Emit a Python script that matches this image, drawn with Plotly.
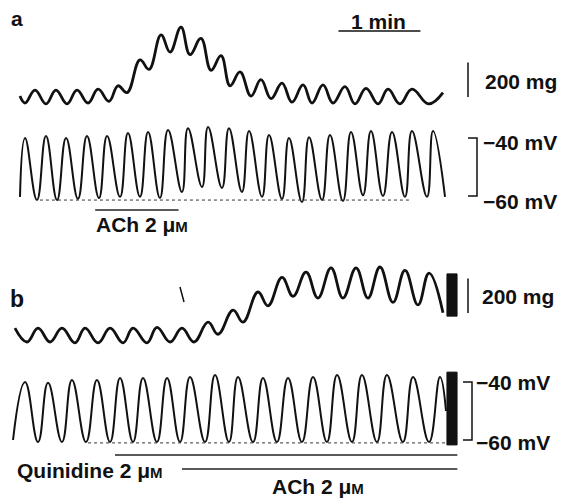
import plotly.graph_objects as go

# ---------------- data (time in s, tension in mg, potential in mV) ----------------
# Panel a: ACh alone
tens_a_t = [0, 3.7, 11.0, 19.0, 26.3, 34.4, 41.7, 49.8, 57.1, 65.1,
            71.7, 78.3, 87.8, 94.4, 103.2, 109.8, 117.8, 124.4, 132.4, 139.8,
            147.1, 153.7, 161.0, 169.0, 176.3, 183.7, 191.7, 199.0, 207.1, 213.7,
            221.7, 229.0, 237.8, 245.1, 253.2, 262.0, 269.3, 278.0, 286.8, 299.0,
            309.5]
tens_a_mg = [40, 0, 75, -5, 75, -5, 75, 0, 80, 10,
             100, 60, 250, 195, 395, 295, 440, 280, 375, 190,
             275, 100, 180, 40, 135, 25, 115, 5, 105, 0,
             105, 0, 95, -5, 85, -5, 80, -5, 80, -5,
             60]
vm_a_t = [0, 3.7, 12.4, 19.0, 27.1, 33.7, 42.4, 49.0, 57.8, 63.7,
          73.2, 79.0, 87.8, 93.7, 102.4, 108.3, 118.5, 122.9, 133.2, 137.6,
          147.8, 152.9, 162.4, 167.6, 177.1, 182.2, 191.7, 196.8, 206.3, 211.5,
          221.0, 226.8, 236.3, 242.2, 251.0, 256.8, 265.6, 272.2, 281.7, 286.8,
          297.8, 302.2, 311.0]
vm_a_mV = [-60.3, -40.0, -61.4, -39.3, -61.4, -40.0, -61.0, -39.3, -60.7, -39.3,
           -60.3, -38.3, -60.3, -37.9, -60.7, -37.2, -58.6, -36.6, -56.9, -36.2,
           -57.2, -36.6, -58.6, -37.6, -60.3, -39.0, -61.0, -40.0, -62.1, -39.7,
           -61.4, -39.0, -61.7, -37.9, -59.7, -37.6, -60.0, -37.9, -60.3, -37.6,
           -60.3, -37.6, -60.3]
mdp_a_t = [14.6, 285.4]
mdp_a_mV = [-61.4, -61.4]
ach_a_t = [55, 116]

# Panel b: quinidine then ACh
tens_b_t = [-3.7, 5.1, 13.2, 22.0, 30.7, 40.2, 47.6, 57.1, 65.9, 75.4,
            82.7, 92.9, 100.2, 109.8, 118.5, 127.3, 137.6, 144.9, 155.9, 163.2,
            174.1, 181.5, 191.7, 199.8, 209.3, 218.0, 227.6, 236.3, 245.9, 254.6,
            263.4, 272.9, 281.7, 291.2, 299.3, 309.5]
tens_b_mg = [80, 0, 80, 0, 80, -5, 80, -5, 80, -5,
             80, -5, 85, 0, 80, 0, 115, 45, 185, 115,
             290, 210, 375, 265, 405, 255, 430, 255, 430, 255,
             435, 230, 415, 215, 400, 170]
vm_b_t = [-5.1, 3.7, 13.2, 20.5, 30.7, 38.0, 48.3, 56.3, 65.9, 73.2,
          82.7, 90.0, 100.2, 107.6, 117.1, 124.4, 135.4, 142.7, 152.9, 159.5,
          170.5, 177.8, 188.0, 196.1, 206.3, 214.4, 224.6, 232.0, 242.9, 250.2,
          261.2, 268.5, 280.2, 287.6, 299.3, 307.3, 311.7]
vm_b_mV = [-60.0, -40.0, -60.7, -40.3, -60.7, -39.3, -60.7, -39.3, -60.7, -38.6,
           -60.7, -38.6, -60.7, -38.6, -60.7, -38.3, -60.7, -37.6, -60.7, -38.3,
           -60.7, -38.6, -60.7, -38.6, -60.7, -38.3, -60.7, -37.6, -60.7, -37.6,
           -60.7, -37.6, -60.7, -38.3, -60.7, -38.3, -50.0]
mdp_b_t = [49.8, 322.0]
mdp_b_mV = [-61.0, -61.0]
fast_t = [312.4, 319.8]            # fast chart-speed segment
fast_b_mg = [150, 395]
fast_b_mV = [-61.7, -36.6]
quin_b_t = [69.5, 320]
ach_b_t = [118.5, 320]

# ---------------- layout geometry ----------------
W, H = 561, 499
X0_PX, PX_PER_S = 20, 82 / 60
FONT = "Liberation Sans, Arial, sans-serif"


def yrange(v_ref, p_ref, px_per_unit):
    return [v_ref - (H - p_ref) / px_per_unit, v_ref + p_ref / px_per_unit]


def px(x, y):
    return x / W, 1 - y / H


fig = go.Figure()
BLACK = "#111111"

fig.add_trace(go.Scatter(x=tens_a_t, y=tens_a_mg, mode="lines", yaxis="y",
                         line=dict(color=BLACK, width=2.8, shape="spline", smoothing=1.2)))
fig.add_trace(go.Scatter(x=vm_a_t, y=vm_a_mV, mode="lines", yaxis="y2",
                         line=dict(color=BLACK, width=2.0, shape="spline", smoothing=1.3)))
fig.add_trace(go.Scatter(x=mdp_a_t, y=mdp_a_mV, mode="lines", yaxis="y2",
                         line=dict(color="#333333", width=1, dash="dot")))
fig.add_trace(go.Scatter(x=tens_b_t, y=tens_b_mg, mode="lines", yaxis="y3",
                         line=dict(color=BLACK, width=2.8, shape="spline", smoothing=1.2)))
fig.add_trace(go.Scatter(x=vm_b_t, y=vm_b_mV, mode="lines", yaxis="y4",
                         line=dict(color=BLACK, width=2.0, shape="spline", smoothing=1.3)))
fig.add_trace(go.Scatter(x=mdp_b_t, y=mdp_b_mV, mode="lines", yaxis="y4",
                         line=dict(color="#333333", width=1, dash="dot")))
for yv, ax in ((fast_b_mg, "y3"), (fast_b_mV, "y4")):
    fig.add_trace(go.Scatter(
        x=[fast_t[0], fast_t[1], fast_t[1], fast_t[0], fast_t[0]],
        y=[yv[0], yv[0], yv[1], yv[1], yv[0]], yaxis=ax, mode="lines",
        fill="toself", fillcolor=BLACK, line=dict(color=BLACK, width=1)))

shapes = []
LINE = dict(color=BLACK, width=1.5)
# 1 min bar
shapes.append(dict(type="line", xref="x", yref="paper", x0=233, x1=293,
                   y0=px(0, 31)[1], y1=px(0, 31)[1], line=LINE))
# 200 mg bars
t_bar = (468 - X0_PX) / PX_PER_S
shapes.append(dict(type="line", xref="x", yref="y", x0=t_bar, x1=t_bar, y0=35, y1=235, line=LINE))
shapes.append(dict(type="line", xref="x", yref="y3", x0=t_bar, x1=t_bar, y0=168, y1=368, line=LINE))
# mV brackets
for ax, xv, xt in (("y2", 477, 468), ("y4", 472, 463)):
    tv = (xv - X0_PX) / PX_PER_S
    tt = (xt - X0_PX) / PX_PER_S
    shapes.append(dict(type="path", xref="x", yref=ax,
                       path=f"M {tt},-40 L {tv},-40 L {tv},-60 L {tt},-60", line=LINE))
# drug bars
shapes.append(dict(type="line", xref="x", yref="paper", x0=ach_a_t[0], x1=ach_a_t[1],
                   y0=px(0, 210)[1], y1=px(0, 210)[1], line=dict(color="#222", width=1.5)))
shapes.append(dict(type="line", xref="x", yref="paper", x0=quin_b_t[0], x1=quin_b_t[1],
                   y0=px(0, 455)[1], y1=px(0, 455)[1], line=dict(color="#222", width=1.5)))
shapes.append(dict(type="line", xref="x", yref="paper", x0=ach_b_t[0], x1=ach_b_t[1],
                   y0=px(0, 469)[1], y1=px(0, 469)[1], line=dict(color="#222", width=1.5)))
# stray mark in the original print
shapes.append(dict(type="line", xref="paper", yref="paper",
                   x0=px(180, 287)[0], y0=px(180, 287)[1], x1=px(184, 302)[0], y1=px(184, 302)[1],
                   line=dict(color=BLACK, width=1.5)))

annots = []


def label(text, x, y, size=21, xanchor="center"):
    ax_, ay_ = px(x, y)
    annots.append(dict(text=f"<b>{text}</b>", x=ax_, y=ay_,
                       xref="paper", yref="paper", xanchor=xanchor, yanchor="middle",
                       showarrow=False, font=dict(family=FONT, size=size, color=BLACK)))


MU_M = "μ<span style='font-size:15px'>M</span>"
label("a", 17, 18, size=21)
label("b", 17, 299, size=23)
label("1 min", 378, 21)
label("200 mg", 483, 82, xanchor="left")
label("200 mg", 480, 296, xanchor="left")
label("−40 mV", 481, 143, xanchor="left")
label("−60 mV", 481, 202, xanchor="left")
label("−40 mV", 474, 382, xanchor="left")
label("−60 mV", 474, 442, xanchor="left")
label("ACh 2 " + MU_M, 142, 224)
label("Quinidine 2 " + MU_M, 15, 470, xanchor="left")
label("ACh 2 " + MU_M, 318, 486)

hidden = dict(visible=False, showgrid=False, zeroline=False, fixedrange=True)
fig.update_layout(
    width=W, height=H, margin=dict(l=0, r=0, t=0, b=0), autosize=False,
    paper_bgcolor="white", plot_bgcolor="white", showlegend=False,
    xaxis=dict(range=[-X0_PX / PX_PER_S, (W - X0_PX) / PX_PER_S], **hidden),
    yaxis=dict(range=yrange(0, 103, 1 / 5.8), domain=[0, 1], **hidden),
    yaxis2=dict(range=yrange(-40, 138, 2.9), overlaying="y", **hidden),
    yaxis3=dict(range=yrange(0, 342, 1 / 5.8), overlaying="y", **hidden),
    yaxis4=dict(range=yrange(-40, 382, 2.9), overlaying="y", **hidden),
    shapes=shapes, annotations=annots,
)

fig.write_html("out.html", config={"displayModeBar": False, "staticPlot": True},
               post_script="document.body.style.margin='0';")
